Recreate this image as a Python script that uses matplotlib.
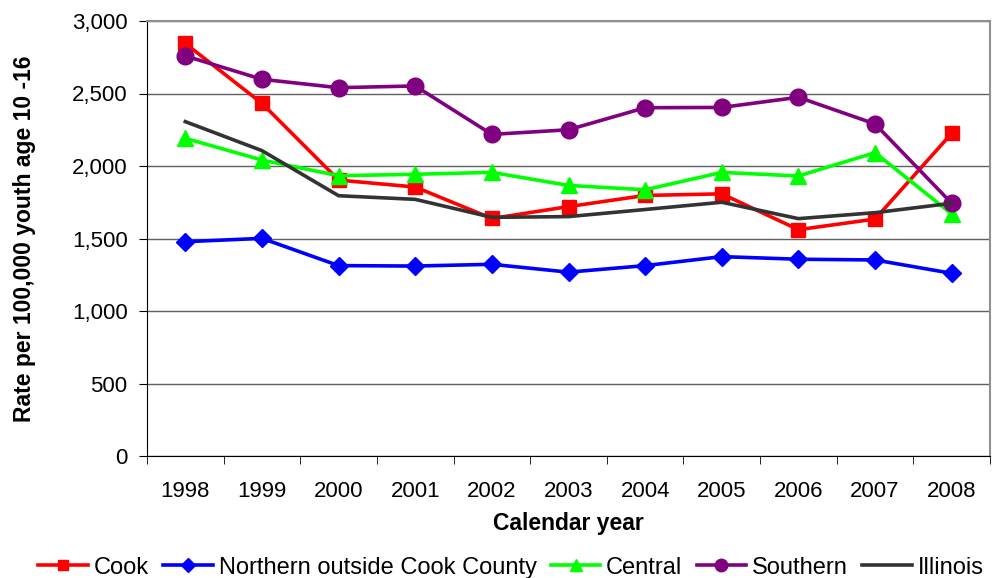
import matplotlib.pyplot as plt
import numpy as np

plt.rcParams['font.family'] = ['Liberation Sans', 'DejaVu Sans']

years = ['1998', '1999', '2000', '2001', '2002', '2003', '2004', '2005', '2006', '2007', '2008']
cook = [2845, 2432, 1903, 1855, 1638, 1720, 1797, 1808, 1561, 1634, 2225]
northern = [1478, 1501, 1313, 1310, 1322, 1268, 1313, 1375, 1357, 1352, 1260]
central = [2191, 2041, 1933, 1943, 1956, 1866, 1836, 1956, 1931, 2092, 1669]
southern = [2759, 2598, 2540, 2552, 2218, 2250, 2402, 2404, 2474, 2290, 1743]
illinois = [2306, 2106, 1795, 1770, 1646, 1651, 1700, 1750, 1637, 1678, 1743]

x = np.arange(len(years))

fig = plt.figure(figsize=(10, 5.78), dpi=100)
ax = fig.add_axes([0.147, 1 - 456 / 578, 0.843, 435 / 578])

ax.plot(x, cook, color='#ff0000', lw=2.6, marker='s', ms=10, label='Cook', zorder=3)
ax.plot(x, northern, color='#0000ff', lw=2.6, marker='D', ms=9, label='Northern outside Cook County', zorder=3)
ax.plot(x, central, color='#00ff00', lw=2.6, marker='^', ms=11, label='Central', zorder=3)
ax.plot(x, southern, color='#800080', lw=2.6, marker='o', ms=12, label='Southern', zorder=3)
ax.plot(x, illinois, color='#333333', lw=2.6, label='Illinois', zorder=3)

ax.set_xlim(-0.5, len(years) - 0.5)
ax.set_ylim(0, 3000)
ax.set_yticks(range(0, 3001, 500))
ax.set_yticklabels([f'{v:,}' for v in range(0, 3001, 500)])
ax.set_xticks(x)
ax.set_xticklabels(years)
ax.set_xticks(np.arange(-0.5, len(years)), minor=True)
ax.tick_params(axis='x', which='major', length=0, pad=18, labelsize=16)
ax.tick_params(axis='x', which='minor', length=6, direction='out')
ax.tick_params(axis='y', length=6, direction='out', labelsize=16, pad=8)

ax.grid(axis='y', color='#606060', lw=1)
ax.set_axisbelow(True)
for s in ['top', 'right']:
    ax.spines[s].set_color('#909090')
    ax.spines[s].set_linewidth(1.5)
ax.spines['left'].set_color('black')
ax.spines['bottom'].set_color('black')

ax.set_xlabel('Calendar year', fontsize=16.5, fontweight='bold', labelpad=7)
ax.set_ylabel('Rate per 100,000 youth age 10 -16', fontsize=16.5, fontweight='bold', labelpad=26)

fig.legend(loc='lower center', bbox_to_anchor=(0.511, -0.038), ncol=5, frameon=False,
           fontsize=17, handlelength=2.1, handletextpad=0.25, columnspacing=0.6,
           markerscale=0.75)

plt.savefig('out.png', dpi=100)
